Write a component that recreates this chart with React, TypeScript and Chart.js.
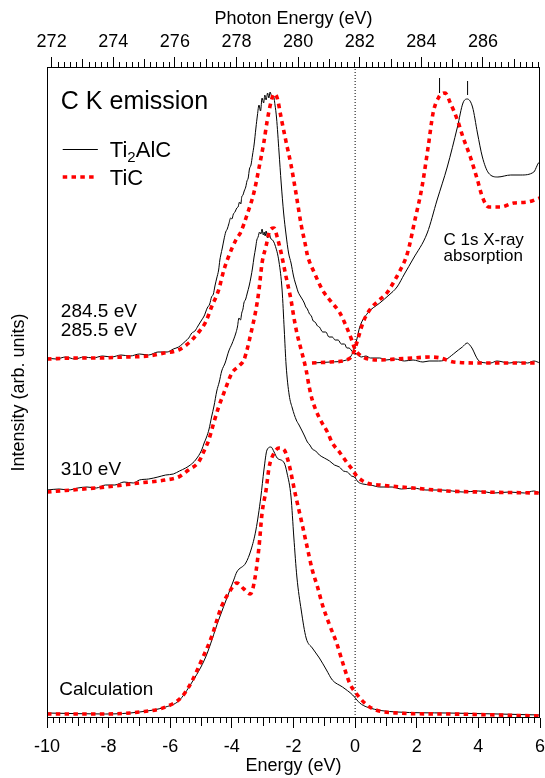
import { useEffect, useRef } from "react";
import { Chart, registerables } from "chart.js";

Chart.register(...registerables);

const FONT = '"Liberation Sans", Arial, Helvetica, sans-serif';

// ---- axes ----
const energyMin = -10;
const energyMax = 6;
const photonOffset = 281.85;
const intensityMin = 0;
const intensityMax = 651;
const energyTicks = [-10, -8, -6, -4, -2, 0, 2, 4, 6];
const photonTicks = [272, 274, 276, 278, 280, 282, 284, 286];

type Pt = [number, number];

// ---- series: [energy (eV), intensity (arb. units)] ----
const ti2alcResonant: Pt[] = [
  [-10, 360], [-9.7, 359], [-9.4, 361], [-9.1, 359], [-8.8, 361], [-8.5, 360], [-8.2, 362], [-7.9, 361],
  [-7.6, 363], [-7.3, 362], [-7.0, 364], [-6.7, 363], [-6.4, 366], [-6.1, 366], [-5.9, 369], [-5.73, 371],
  [-5.5, 377], [-5.4, 380], [-5.3, 385], [-5.2, 387], [-5.1, 392], [-4.98, 398], [-4.9, 402], [-4.8, 410],
  [-4.72, 414], [-4.66, 421], [-4.6, 424], [-4.55, 432], [-4.49, 440], [-4.43, 448], [-4.39, 458], [-4.36, 463],
  [-4.31, 470], [-4.26, 478], [-4.2, 486], [-4.15, 489], [-4.1, 494], [-4.04, 500], [-4.0, 499], [-3.95, 504],
  [-3.9, 506], [-3.84, 510], [-3.8, 511], [-3.75, 516], [-3.71, 514], [-3.68, 521], [-3.64, 523], [-3.6, 527],
  [-3.55, 531], [-3.51, 537], [-3.47, 540], [-3.43, 549], [-3.38, 553], [-3.33, 563], [-3.28, 573], [-3.22, 590],
  [-3.17, 603], [-3.12, 613], [-3.07, 607], [-3.02, 620], [-2.97, 615], [-2.93, 623], [-2.89, 618], [-2.84, 625],
  [-2.8, 620], [-2.76, 626], [-2.7, 621], [-2.65, 622], [-2.6, 613], [-2.55, 600], [-2.47, 566], [-2.4, 535],
  [-2.32, 505], [-2.24, 483], [-2.16, 465], [-2.08, 455], [-2.0, 442], [-1.95, 436], [-1.91, 432], [-1.85, 426],
  [-1.8, 423], [-1.72, 419], [-1.65, 415], [-1.6, 411], [-1.55, 409], [-1.48, 404], [-1.42, 402], [-1.36, 397],
  [-1.3, 396], [-1.22, 392], [-1.16, 391], [-1.05, 386], [-0.95, 386], [-0.85, 381], [-0.74, 381], [-0.65, 378],
  [-0.55, 378], [-0.45, 374], [-0.34, 374], [-0.27, 370], [-0.2, 370], [-0.08, 366], [0.05, 364], [0.2, 361],
  [0.35, 362], [0.5, 360], [0.8, 360], [1.0, 358], [1.3, 359], [1.6, 357], [1.88, 358], [2.2, 356],
  [2.4, 357], [2.7, 357], [2.92, 358], [3.19, 364], [3.35, 368], [3.48, 371], [3.64, 375], [3.72, 373],
  [3.81, 369], [3.9, 363], [3.97, 359], [4.07, 356], [4.4, 355], [4.6, 357], [5.0, 355], [5.3, 356],
  [5.6, 355], [5.8, 357], [6.0, 355],
];

const ticResonant: Pt[] = [
  [-10, 359], [-9, 360], [-8.35, 360], [-7.5, 361], [-6.71, 362], [-6.2, 365], [-5.73, 368], [-5.4, 375],
  [-5.1, 385], [-4.85, 396], [-4.66, 411], [-4.43, 428], [-4.26, 448], [-4.1, 462], [-3.87, 478], [-3.71, 486],
  [-3.51, 503], [-3.28, 526], [-3.12, 550], [-2.96, 576], [-2.86, 596], [-2.73, 616], [-2.63, 624], [-2.53, 620],
  [-2.4, 600], [-2.24, 576], [-2.08, 553], [-1.91, 523], [-1.75, 493], [-1.62, 474], [-1.55, 463], [-1.32, 445],
  [-1.06, 428], [-0.77, 416], [-0.51, 406], [-0.28, 391], [-0.11, 378], [-0.02, 370], [0.25, 361], [0.8, 358],
  [1.36, 359], [1.88, 360], [2.43, 361], [2.77, 360], [3.19, 356], [4.07, 355], [5, 355], [6, 355],
];

const ticAbsorption: Pt[] = [
  [-1.4, 355], [-0.8, 356], [-0.28, 358], [-0.1, 362], [-0.02, 368], [0.1, 380], [0.25, 395], [0.47, 408],
  [0.75, 417], [1.03, 425], [1.29, 438], [1.45, 447], [1.7, 465], [1.94, 498], [2.17, 531], [2.37, 571],
  [2.53, 605], [2.7, 620], [2.92, 625], [3.09, 615], [3.32, 598], [3.5, 581], [3.74, 561], [3.97, 538],
  [4.13, 521], [4.33, 511], [4.72, 511], [5.15, 515], [5.61, 516], [6.0, 520],
];

const ti2alcAbsorption: Pt[] = [
  [-1.4, 355], [-0.8, 356], [-0.28, 358], [-0.08, 365], [0.05, 378], [0.15, 391], [0.41, 405], [0.8, 415],
  [1.1, 423], [1.36, 431], [1.6, 444], [1.88, 459], [2.34, 485], [2.66, 518], [2.99, 551], [3.32, 591],
  [3.5, 615], [3.64, 619], [3.81, 611], [3.97, 585], [4.13, 561], [4.33, 545], [4.63, 541], [5.05, 543],
  [5.38, 543], [5.8, 546], [5.9, 552], [5.95, 555], [6.0, 553],
];

const ti2alc310: Pt[] = [
  [-10, 228], [-9.6, 229], [-9.3, 228], [-9, 230], [-8.7, 231], [-8.4, 230], [-8.1, 233], [-7.8, 233],
  [-7.5, 236], [-7.2, 235], [-7, 238], [-6.7, 239], [-6.4, 241], [-6.15, 243], [-5.9, 244], [-5.7, 247],
  [-5.5, 250], [-5.35, 253], [-5.18, 258], [-4.98, 268], [-4.9, 275], [-4.82, 281], [-4.74, 289], [-4.66, 301],
  [-4.58, 312], [-4.49, 327], [-4.41, 336], [-4.33, 347], [-4.22, 355], [-4.1, 367], [-4.0, 374], [-3.87, 385],
  [-3.82, 391], [-3.77, 400], [-3.72, 398], [-3.68, 405], [-3.64, 409], [-3.61, 415], [-3.55, 419], [-3.5, 425],
  [-3.44, 432], [-3.38, 441], [-3.33, 450], [-3.28, 461], [-3.23, 470], [-3.19, 478], [-3.15, 481], [-3.1, 486],
  [-3.06, 484], [-3.02, 489], [-2.98, 483], [-2.95, 486], [-2.92, 482], [-2.89, 487], [-2.84, 480], [-2.79, 484],
  [-2.73, 479], [-2.68, 478], [-2.6, 473], [-2.47, 456], [-2.37, 428], [-2.3, 388], [-2.24, 353], [-2.14, 323],
  [-2.04, 310], [-1.91, 298], [-1.82, 293], [-1.72, 287], [-1.64, 282], [-1.55, 276], [-1.47, 273], [-1.39, 269],
  [-1.28, 267], [-1.16, 263], [-1.0, 260], [-0.83, 257], [-0.67, 253], [-0.51, 251], [-0.38, 247], [-0.25, 246],
  [-0.12, 242], [-0.02, 241], [0.1, 236], [0.25, 234], [0.5, 233], [0.8, 231], [1.2, 231], [1.5, 229],
  [1.88, 230], [2.3, 228], [2.8, 228], [3.51, 226], [4.0, 227], [4.5, 225], [5.0, 226], [5.5, 225],
  [5.8, 227], [6.0, 225],
];

const tic310: Pt[] = [
  [-10, 226], [-8.1, 231], [-7.0, 235], [-6.15, 238], [-5.73, 241], [-5.41, 248], [-5.08, 256], [-4.92, 266],
  [-4.75, 278], [-4.59, 295], [-4.43, 311], [-4.26, 325], [-4.1, 338], [-4.0, 345], [-3.77, 352], [-3.61, 358],
  [-3.51, 368], [-3.38, 385], [-3.22, 408], [-3.12, 428], [-3.02, 455], [-2.89, 472], [-2.76, 488], [-2.63, 490],
  [-2.53, 481], [-2.4, 465], [-2.24, 441], [-2.08, 418], [-1.99, 401], [-1.89, 385], [-1.75, 368], [-1.59, 348],
  [-1.49, 331], [-1.39, 318], [-1.16, 300], [-0.9, 286], [-0.74, 275], [-0.51, 266], [-0.28, 256], [-0.08, 248],
  [0.05, 242], [0.38, 235], [0.8, 233], [1.88, 230], [2.99, 227], [4.07, 226], [6.0, 225],
];

const ti2alcCalc: Pt[] = [
  [-10, 5], [-8.1, 4], [-7.0, 6], [-6.15, 11], [-5.73, 17], [-5.31, 35], [-4.85, 61], [-4.43, 98],
  [-4.1, 125], [-3.94, 138], [-3.84, 146], [-3.55, 155], [-3.38, 168], [-3.22, 188], [-3.06, 221], [-2.96, 248],
  [-2.86, 268], [-2.73, 271], [-2.63, 266], [-2.53, 260], [-2.3, 255], [-2.21, 245], [-2.08, 221], [-1.99, 181],
  [-1.89, 141], [-1.75, 108], [-1.59, 80], [-1.39, 70], [-1.16, 60], [-0.93, 48], [-0.74, 38], [-0.41, 31],
  [-0.08, 23], [0.15, 15], [0.38, 11], [1.36, 6], [2.99, 5], [6.0, 3],
];

const ticCalc: Pt[] = [
  [-10, 4], [-8.1, 4], [-7.0, 6], [-6.15, 11], [-5.63, 21], [-5.31, 36], [-4.98, 58], [-4.66, 81],
  [-4.33, 112], [-4.1, 125], [-3.84, 135], [-3.61, 129], [-3.4, 124], [-3.25, 140], [-3.12, 171], [-3.02, 205],
  [-2.89, 228], [-2.79, 251], [-2.63, 265], [-2.47, 270], [-2.3, 268], [-2.14, 253], [-1.95, 225], [-1.75, 198],
  [-1.55, 170], [-1.39, 148], [-1.22, 131], [-1.06, 113], [-0.83, 93], [-0.6, 75], [-0.41, 56], [-0.18, 35],
  [0.05, 24], [0.47, 11], [1.36, 5], [2.99, 4], [6.0, 2],
];

const excitationMarkerA: Pt[] = [[2.74, 625], [2.74, 640]];
const excitationMarkerB: Pt[] = [[3.65, 623], [3.65, 637]];
const fermiLevel: Pt[] = [[0, intensityMin], [0, intensityMax]];

// ---- texts ----
const textLabels = [
  { text: "C K emission", x: -9.55, y: 609.5, size: 25 },
  { text: "284.5 eV", x: -9.55, y: 401, size: 19 },
  { text: "285.5 eV", x: -9.55, y: 382, size: 19 },
  { text: "310 eV", x: -9.55, y: 243, size: 19 },
  { text: "Calculation", x: -9.6, y: 23, size: 19 },
  { text: "C 1s X-ray", x: 2.87, y: 473, size: 17 },
  { text: "absorption", x: 2.87, y: 457, size: 17 },
];
const legendLineX: Pt = [-9.49, -8.35];
const legendTextX = -7.96;
const legendRowsY = [569, 541];
const legendTextBaselineY = [561, 533];

const blackStyle = { borderColor: "#000", borderWidth: 1 };
const redStyle = { borderColor: "#ff0000", borderWidth: 3.6, borderDash: [4.5, 4.3] };

const toXY = (a: Pt[]) => a.map(([x, y]) => ({ x, y }));

const decorPlugin = {
  id: "decor",
  afterDraw(chart: any) {
    const { ctx, chartArea: ca, scales } = chart;
    const xs = scales.x;
    const xt = scales.xTop;
    const ys = scales.y;
    ctx.save();
    ctx.setLineDash([]);
    ctx.strokeStyle = "#000";
    ctx.lineWidth = 1;
    ctx.strokeRect(ca.left + 0.5, ca.top + 0.5, ca.right - ca.left - 1, ca.bottom - ca.top - 1);

    ctx.beginPath();
    for (let i = 0; i <= 80; i++) {
      if (i % 10 === 0) continue;
      const v = energyMin + i / 5;
      const px = Math.round(xs.getPixelForValue(v)) + 0.5;
      const len = i % 5 === 0 ? 8 : 5;
      ctx.moveTo(px, ca.bottom);
      ctx.lineTo(px, ca.bottom + len);
    }
    for (let i = 0; i < 80; i++) {
      if (i % 10 === 0) continue;
      const p = photonTicks[0] + i / 5;
      const px = Math.round(xt.getPixelForValue(p)) + 0.5;
      const len = i % 5 === 0 ? 8 : 5;
      ctx.moveTo(px, ca.top);
      ctx.lineTo(px, ca.top - len);
    }
    ctx.stroke();

    // texts
    ctx.fillStyle = "#000";
    ctx.textBaseline = "alphabetic";
    ctx.textAlign = "left";
    for (const t of textLabels) {
      ctx.font = `${t.size}px ${FONT}`;
      ctx.fillText(t.text, xs.getPixelForValue(t.x), ys.getPixelForValue(t.y));
    }

    // legend
    const lx0 = xs.getPixelForValue(legendLineX[0]);
    const lx1 = xs.getPixelForValue(legendLineX[1]);
    const tx = xs.getPixelForValue(legendTextX);
    const y0 = Math.round(ys.getPixelForValue(legendRowsY[0])) + 0.5;
    ctx.strokeStyle = blackStyle.borderColor;
    ctx.lineWidth = blackStyle.borderWidth;
    ctx.beginPath();
    ctx.moveTo(lx0, y0);
    ctx.lineTo(lx1, y0);
    ctx.stroke();
    const y1 = ys.getPixelForValue(legendRowsY[1]);
    ctx.strokeStyle = redStyle.borderColor;
    ctx.lineWidth = redStyle.borderWidth;
    ctx.setLineDash(redStyle.borderDash);
    ctx.beginPath();
    ctx.moveTo(lx0, y1);
    ctx.lineTo(lx0 + (lx1 - lx0) * 0.92, y1);
    ctx.stroke();
    ctx.setLineDash([]);

    const b0 = ys.getPixelForValue(legendTextBaselineY[0]);
    ctx.font = `22px ${FONT}`;
    ctx.fillText("Ti", tx, b0);
    let w = ctx.measureText("Ti").width;
    ctx.font = `15px ${FONT}`;
    ctx.fillText("2", tx + w, b0 + 5);
    w += ctx.measureText("2").width;
    ctx.font = `22px ${FONT}`;
    ctx.fillText("AlC", tx + w, b0);
    ctx.fillText("TiC", tx, ys.getPixelForValue(legendTextBaselineY[1]));
    ctx.restore();
  },
};

export default function App() {
  const ref = useRef<HTMLCanvasElement | null>(null);
  useEffect(() => {
    if (!ref.current) return;
    const black = (a: Pt[]) => ({
      data: toXY(a), ...blackStyle, pointRadius: 0, fill: false,
      cubicInterpolationMode: "monotone" as const, order: 2,
    });
    const red = (a: Pt[]) => ({
      data: toXY(a), ...redStyle, pointRadius: 0, fill: false,
      cubicInterpolationMode: "monotone" as const, order: 1,
    });
    const straight = (a: Pt[], dash: number[]) => ({
      data: toXY(a), borderColor: "#000", borderWidth: 1, borderDash: dash,
      pointRadius: 0, fill: false, tension: 0, order: 3,
    });
    const axisFont = { family: FONT, size: 18 };
    const noSidePadding = (s: any) => { s.paddingLeft = 0; s.paddingRight = 0; };
    const chart = new Chart(ref.current, {
      type: "line",
      data: {
        datasets: [
          straight(fermiLevel, [1, 2]),
          straight(excitationMarkerA, []),
          straight(excitationMarkerB, []),
          black(ti2alcResonant),
          black(ti2alcAbsorption),
          black(ti2alc310),
          black(ti2alcCalc),
          red(ticResonant),
          red(ticAbsorption),
          red(tic310),
          red(ticCalc),
        ] as any,
      },
      options: {
        animation: false,
        responsive: false,
        layout: { padding: { left: 0, right: 5, top: 0, bottom: 0 } },
        plugins: { legend: { display: false }, tooltip: { enabled: false } },
        events: [],
        scales: {
          x: {
            type: "linear",
            position: "bottom",
            min: energyMin,
            max: energyMax,
            afterBuildTicks: (s: any) => { s.ticks = energyTicks.map((value) => ({ value })); },
            afterFit: (s: any) => { s.height = 60; noSidePadding(s); },
            ticks: { color: "#000", font: axisFont, padding: 8, autoSkip: false, maxRotation: 0 },
            grid: { display: true, drawOnChartArea: false, drawTicks: true, tickLength: 10, color: "#000", lineWidth: 1 },
            border: { display: false },
            title: { display: true, text: "Energy (eV)", color: "#000", font: axisFont, padding: { top: 0, bottom: 1 } },
          },
          xTop: {
            type: "linear",
            axis: "x",
            position: "top",
            display: true,
            min: energyMin + photonOffset,
            max: energyMax + photonOffset,
            afterBuildTicks: (s: any) => { s.ticks = photonTicks.map((value) => ({ value })); },
            afterFit: (s: any) => { s.height = 67; noSidePadding(s); },
            ticks: { color: "#000", font: axisFont, padding: 4, autoSkip: false, maxRotation: 0 },
            grid: { display: true, drawOnChartArea: false, drawTicks: true, tickLength: 10, color: "#000", lineWidth: 1 },
            border: { display: false },
            title: { display: true, text: "Photon Energy (eV)", color: "#000", font: axisFont, padding: { top: 8, bottom: 0 } },
          },
          y: {
            type: "linear",
            position: "left",
            min: intensityMin,
            max: intensityMax,
            afterFit: (s: any) => { s.width = 47; },
            ticks: { display: false },
            grid: { display: false },
            border: { display: false },
            title: { display: true, text: "Intensity (arb. units)", color: "#000", font: axisFont, padding: { top: 8, bottom: 0 } },
          },
        } as any,
      },
      plugins: [decorPlugin],
    });
    return () => chart.destroy();
  }, []);
  return (
    <div style={{ position: "absolute", left: 0, top: 0, width: 545, height: 778, background: "#fff" }}>
      <canvas ref={ref} width={545} height={778} style={{ display: "block" }} />
    </div>
  );
}
